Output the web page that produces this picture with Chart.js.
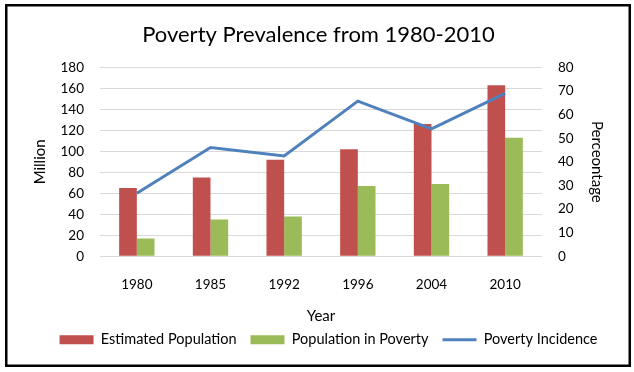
<!DOCTYPE html>
<html>
<head>
<meta charset="utf-8">
<script src="https://cdn.jsdelivr.net/npm/chart.js@4/dist/chart.umd.min.js"></script>
<style>
  body { margin: 0; background: #fff; }
  #wrap { width: 634px; height: 372px; }
</style>
</head>
<body>
<div id="wrap"><canvas id="chartPoverty" width="634" height="372"></canvas></div>
<script>
// DATA
var years = ['1980', '1985', '1992', '1996', '2004', '2010'];
var estimatedPopulation = [65, 75, 92, 102, 126, 163];
var populationInPoverty = [17, 35, 38, 67, 69, 113];
var povertyIncidence = [26.7, 46.1, 42.5, 65.7, 54, 69];

var FONT = 'Lato, "Open Sans", sans-serif';

// outer frame like the excel chart border, legend nudged right
var framePlugin = {
    id: 'frame',
    afterLayout: function (chart) {
        if (chart.legend) {
            chart.legend.left += 10;
            chart.legend.right += 10;
        }
    },
    afterDraw: function (chart) {
        var ctx = chart.ctx;
        ctx.save();
        ctx.strokeStyle = '#000';
        ctx.lineWidth = 2.5;
        ctx.strokeRect(6.25, 5.25, 623.5, 360.5);
        ctx.restore();
    }
};

new Chart(document.getElementById('chartPoverty'), {
    type: 'bar',
    data: {
        labels: years,
        datasets: [{
            type: 'line',
            label: 'Poverty Incidence',
            data: povertyIncidence,
            yAxisID: 'y1',
            borderColor: '#4F81BD',
            backgroundColor: '#4F81BD',
            borderWidth: 3,
            pointRadius: 0,
            pointStyle: 'line',
            tension: 0,
            order: 0
        }, {
            label: 'Estimated Population',
            data: estimatedPopulation,
            yAxisID: 'y',
            backgroundColor: '#C0504D',
            pointStyle: 'rect',
            order: 1
        }, {
            label: 'Population in Poverty',
            data: populationInPoverty,
            yAxisID: 'y',
            backgroundColor: '#9BBB59',
            pointStyle: 'rect',
            order: 2
        }]
    },
    options: {
        responsive: false,
        animation: false,
        layout: {
            padding: { left: 27, right: 24, top: 22, bottom: 15 }
        },
        datasets: {
            bar: { categoryPercentage: 0.48, barPercentage: 1 }
        },
        plugins: {
            title: {
                display: true,
                text: 'Poverty Prevalence from 1980-2010',
                color: '#000',
                font: { family: FONT, size: 22, weight: 'normal' },
                padding: { top: 0, bottom: 19 }
            },
            legend: {
                position: 'bottom',
                labels: {
                    sort: function (a, b) { return (a.datasetIndex === 0 ? 9 : a.datasetIndex) - (b.datasetIndex === 0 ? 9 : b.datasetIndex); },
                    usePointStyle: true,
                    pointStyleWidth: 34,
                    boxHeight: 9,
                    padding: 14,
                    color: '#000',
                    font: { family: FONT, size: 14.5 }
                }
            },
            tooltip: { enabled: false }
        },
        scales: {
            x: {
                grid: { display: false },
                border: { display: false },
                ticks: { color: '#000', padding: 12, font: { family: FONT, size: 13.5 } },
                title: {
                    display: true,
                    text: 'Year',
                    color: '#000',
                    font: { family: FONT, size: 15 },
                    padding: { top: 3, bottom: -7 }
                }
            },
            y: {
                position: 'left',
                min: 0,
                max: 180,
                ticks: { stepSize: 20, autoSkip: false, color: '#000', padding: 16, font: { family: FONT, size: 13.5 } },
                grid: { color: '#D9D9D9', drawTicks: false },
                border: { display: false },
                title: {
                    display: true,
                    text: 'Million',
                    color: '#000',
                    font: { family: FONT, size: 15 }
                },
                afterFit: function (scale) { scale.width = 73; }
            },
            y1: {
                position: 'right',
                min: 0,
                max: 80,
                ticks: { stepSize: 10, autoSkip: false, color: '#000', padding: 16, font: { family: FONT, size: 13.5 } },
                grid: { display: false, drawTicks: false },
                border: { display: false },
                title: {
                    display: true,
                    text: 'Perceontage',
                    color: '#000',
                    font: { family: FONT, size: 15 }
                },
                afterFit: function (scale) { scale.width = 68; }
            }
        }
    },
    plugins: [framePlugin]
});
</script>
</body>
</html>
